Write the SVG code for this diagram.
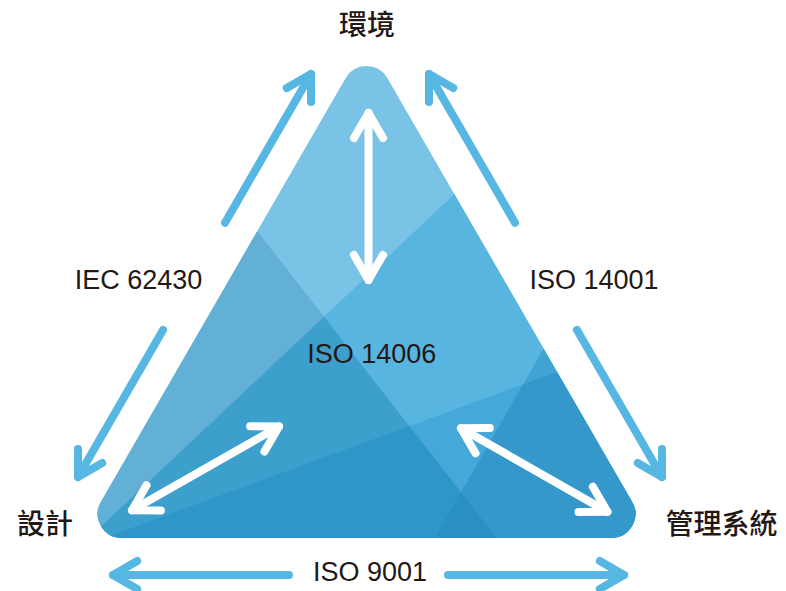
<svg xmlns="http://www.w3.org/2000/svg" width="786" height="591" viewBox="0 0 786 591">
<defs>
<style>
.lbl{font-family:"Liberation Sans",Arial,sans-serif;font-size:27px;fill:#231815;text-anchor:middle}
.cjk{font-family:"Noto Sans CJK TC","Noto Sans CJK SC",sans-serif;font-size:28px;font-weight:500;fill:#231815;text-anchor:middle}
.blue{fill:none;stroke:#56b8e2;stroke-width:8;stroke-linecap:round;stroke-linejoin:round}
.white{fill:none;stroke:#ffffff;stroke-width:8;stroke-linecap:round;stroke-linejoin:round}
</style>
<clipPath id="tri"><path d="M345.7,78 A24,24 0 0 1 387.3,78 L632.2,502 A24,24 0 0 1 611.4,538 L121.6,538 A24,24 0 0 1 100.8,502 Z"/></clipPath>
<marker id="mb" viewBox="-32 -20 40 40" markerWidth="40" markerHeight="40" refX="0" refY="0" orient="auto-start-reverse" markerUnits="userSpaceOnUse" overflow="visible">
<path class="blue" d="M-24.2,-14 L0,0 L-24.2,14"/>
</marker>
<marker id="mw" viewBox="-32 -20 40 40" markerWidth="40" markerHeight="40" refX="0" refY="0" orient="auto-start-reverse" markerUnits="userSpaceOnUse" overflow="visible">
<path class="white" d="M-25,-14.5 L0,0 L-25,14.5"/>
</marker>
</defs>
<rect width="786" height="591" fill="#ffffff"/>

<g id="triangle" clip-path="url(#tri)">
<rect x="0" y="0" width="786" height="591" fill="#79c4e6"/>
<polygon points="77,0 545,600 0,600 0,0" fill="#63b0d6"/>
<polygon points="660.6,0 800,0 800,600 22.9,600" fill="#57b5e0"/>
<polygon points="324,316.7 545,600 22.9,600" fill="#3d9fcc"/>
<polygon points="0,576.2 800,282.8 800,600 0,600" fill="#45a8d9"/>
<polygon points="409.3,426 545,600 0,600 0,576.2" fill="#2f96c8"/>
<polygon points="744,0 800,0 800,282.8 523.1,384.3" fill="#40a3d2"/>
<polygon points="523.1,384.3 800,282.8 800,600 399,600" fill="#3598ca"/>
<polygon points="461,492.3 545,600 399,600" fill="#2a8fc3"/>
</g>

<g id="connectors">
<path class="blue" d="M225,222.7 L311,74" marker-end="url(#mb)"/>
<path class="blue" d="M163,330 L78,477" marker-end="url(#mb)"/>
<path class="blue" d="M515,222.7 L429,74" marker-end="url(#mb)"/>
<path class="blue" d="M577,330 L662,477" marker-end="url(#mb)"/>
<path class="blue" d="M289,575 L113,575" marker-end="url(#mb)"/>
<path class="blue" d="M448,575 L624,575" marker-end="url(#mb)"/>
<path class="white" d="M368.5,113 L368.5,280" marker-start="url(#mw)" marker-end="url(#mw)"/>
<path class="white" d="M132,510.2 L279,426.5" marker-start="url(#mw)" marker-end="url(#mw)"/>
<path class="white" d="M461,428.2 L607.4,511.8" marker-start="url(#mw)" marker-end="url(#mw)"/>
</g>

<g id="node-environment"><text class="cjk" x="367" y="35">環境</text></g>
<g id="node-design"><text class="cjk" x="45" y="534">設計</text></g>
<g id="node-management"><text class="cjk" x="721.5" y="534">管理系統</text></g>

<g id="labels">
<text class="lbl" x="138.5" y="289">IEC 62430</text>
<text class="lbl" x="594" y="289">ISO 14001</text>
<text class="lbl" x="371.7" y="362.5">ISO 14006</text>
<text class="lbl" x="370" y="581">ISO 9001</text>
</g>
</svg>
